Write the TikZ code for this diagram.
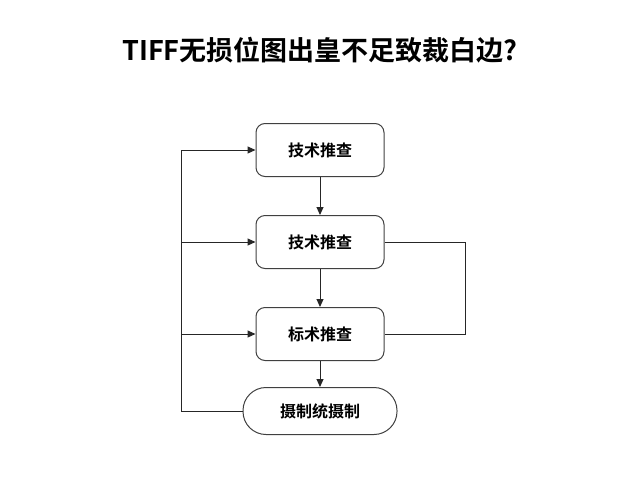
\documentclass[tikz,border=0pt]{standalone}
\usepackage{fontspec}
\newfontfamily\cjk{Noto Sans CJK SC}[BoldFont={Noto Sans CJK SC Bold}]
\usetikzlibrary{arrows.meta}
\begin{document}
\begin{tikzpicture}[x=1pt,y=-1pt,
  box/.style={draw=black!75,line width=1pt,rounded corners=9pt,minimum width=128pt,minimum height=53pt,font=\cjk\bfseries\fontsize{16}{18}\selectfont},
  ln/.style={line width=1pt,black!85},
  ar/.style={ln,-{Triangle[length=8pt,width=7pt]}}]
\useasboundingbox (0,0) rectangle (640,480);
\node[font=\cjk\bfseries\fontsize{27}{30}\selectfont] (t) at (320,50) {TIFF无损位图出皇不足致裁白边?};
\node[box] (a) at (320,150) {技术推查};
\node[box] (b) at (320,242) {技术推查};
\node[box] (c) at (320,334) {标术推查};
\node[box,minimum width=154pt,minimum height=47pt,rounded corners=23pt] (d) at (320,411) {摄制统摄制};
\draw[ar] (a) -- (b);
\draw[ar] (b) -- (c);
\draw[ar] (c) -- (d);
\coordinate (l1) at (181,150);
\coordinate (l4) at (181,411);
\draw[ln] (d.west) -- (l4) -- (l1);
\draw[ar] (l1) -- (a.west);
\draw[ar] (181,242) -- (b.west);
\draw[ar] (181,334) -- (c.west);
\coordinate (r1) at (465,242);
\coordinate (r2) at (465,334);
\draw[ln] (b.east) -- (r1) -- (r2) -- (c.east);
\end{tikzpicture}
\end{document}
